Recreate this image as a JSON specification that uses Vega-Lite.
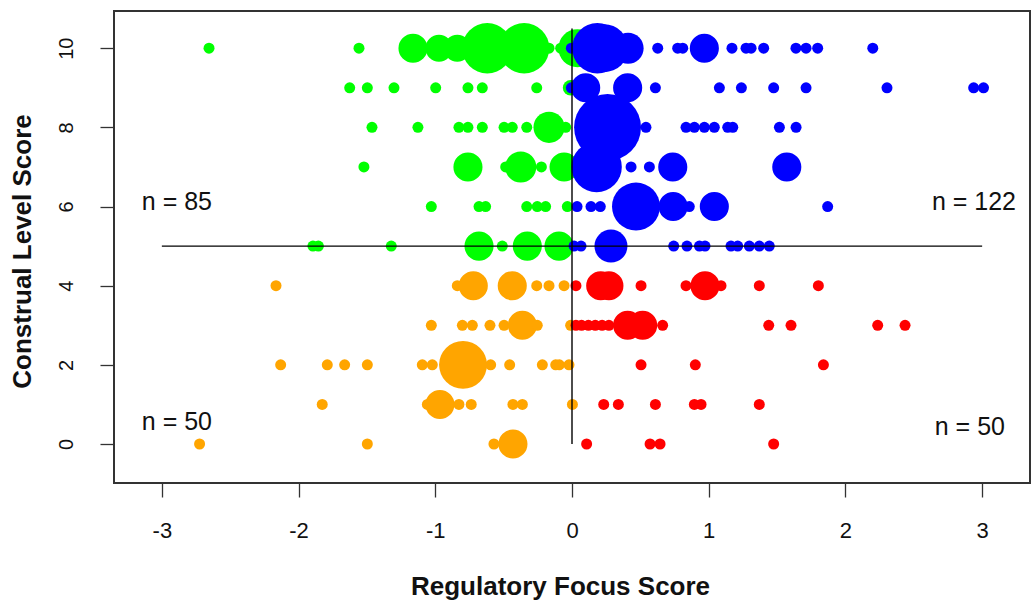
{
  "$schema": "https://vega.github.io/schema/vega-lite/v6.json",
  "width": 916,
  "height": 472,
  "autosize": {"type": "none"},
  "padding": {"left": 114, "top": 11, "right": 5, "bottom": 119},
  "background": "white",
  "config": {
    "view": {"stroke": "#333333", "strokeWidth": 2},
    "font": "Liberation Sans",
    "axis": {"grid": false, "domain": false, "tickColor": "#333333", "tickWidth": 1.3, "tickSize": 14, "labelPadding": 24, "labelFontSize": 20, "labelColor": "#111111", "titleFontSize": 26, "titleFontWeight": "bold", "titleColor": "#111111", "labelFont": "Liberation Sans", "titleFont": "Liberation Sans"}
  },
  "datasets": {
    "points": [
      {"x": -2.655, "y": 10, "count": 1, "group": "green"},
      {"x": -1.558, "y": 10, "count": 1, "group": "green"},
      {"x": -1.163, "y": 10, "count": 7, "group": "green"},
      {"x": -0.973, "y": 10, "count": 6, "group": "green"},
      {"x": -0.839, "y": 10, "count": 6, "group": "green"},
      {"x": -0.62, "y": 10, "count": 21, "group": "green"},
      {"x": -0.35, "y": 10, "count": 21, "group": "green"},
      {"x": -0.168, "y": 10, "count": 1, "group": "green"},
      {"x": -0.083, "y": 10, "count": 1, "group": "green"},
      {"x": 0.04, "y": 10, "count": 12, "group": "green"},
      {"x": -1.626, "y": 9, "count": 1, "group": "green"},
      {"x": -1.497, "y": 9, "count": 1, "group": "green"},
      {"x": -1.302, "y": 9, "count": 1, "group": "green"},
      {"x": -0.997, "y": 9, "count": 1, "group": "green"},
      {"x": -0.761, "y": 9, "count": 1, "group": "green"},
      {"x": -0.656, "y": 9, "count": 1, "group": "green"},
      {"x": -0.258, "y": 9, "count": 1, "group": "green"},
      {"x": -0.01, "y": 9, "count": 2, "group": "green"},
      {"x": -1.463, "y": 8, "count": 1, "group": "green"},
      {"x": -1.127, "y": 8, "count": 1, "group": "green"},
      {"x": -0.827, "y": 8, "count": 1, "group": "green"},
      {"x": -0.761, "y": 8, "count": 1, "group": "green"},
      {"x": -0.656, "y": 8, "count": 1, "group": "green"},
      {"x": -0.497, "y": 8, "count": 1, "group": "green"},
      {"x": -0.437, "y": 8, "count": 1, "group": "green"},
      {"x": -0.331, "y": 8, "count": 1, "group": "green"},
      {"x": -0.168, "y": 8, "count": 8, "group": "green"},
      {"x": -0.046, "y": 8, "count": 1, "group": "green"},
      {"x": -1.522, "y": 7, "count": 1, "group": "green"},
      {"x": -0.761, "y": 7, "count": 7, "group": "green"},
      {"x": -0.485, "y": 7, "count": 1, "group": "green"},
      {"x": -0.375, "y": 7, "count": 8, "group": "green"},
      {"x": -0.224, "y": 7, "count": 1, "group": "green"},
      {"x": -0.058, "y": 7, "count": 7, "group": "green"},
      {"x": -1.029, "y": 6, "count": 1, "group": "green"},
      {"x": -0.68, "y": 6, "count": 1, "group": "green"},
      {"x": -0.632, "y": 6, "count": 1, "group": "green"},
      {"x": -0.331, "y": 6, "count": 1, "group": "green"},
      {"x": -0.254, "y": 6, "count": 1, "group": "green"},
      {"x": -0.193, "y": 6, "count": 1, "group": "green"},
      {"x": -0.034, "y": 6, "count": 1, "group": "green"},
      {"x": -1.895, "y": 5, "count": 1, "group": "green"},
      {"x": -1.855, "y": 5, "count": 1, "group": "green"},
      {"x": -1.322, "y": 5, "count": 1, "group": "green"},
      {"x": -0.68, "y": 5, "count": 7, "group": "green"},
      {"x": -0.51, "y": 5, "count": 1, "group": "green"},
      {"x": -0.327, "y": 5, "count": 7, "group": "green"},
      {"x": -0.095, "y": 5, "count": 7, "group": "green"},
      {"x": -2.165, "y": 4, "count": 1, "group": "orange"},
      {"x": -0.839, "y": 4, "count": 1, "group": "orange"},
      {"x": -0.722, "y": 4, "count": 7, "group": "orange"},
      {"x": -0.437, "y": 4, "count": 7, "group": "orange"},
      {"x": -0.258, "y": 4, "count": 1, "group": "orange"},
      {"x": -0.168, "y": 4, "count": 1, "group": "orange"},
      {"x": -0.058, "y": 4, "count": 1, "group": "orange"},
      {"x": -1.029, "y": 3, "count": 1, "group": "orange"},
      {"x": -0.802, "y": 3, "count": 1, "group": "orange"},
      {"x": -0.729, "y": 3, "count": 1, "group": "orange"},
      {"x": -0.6, "y": 3, "count": 1, "group": "orange"},
      {"x": -0.497, "y": 3, "count": 1, "group": "orange"},
      {"x": -0.363, "y": 3, "count": 7, "group": "orange"},
      {"x": -0.254, "y": 3, "count": 1, "group": "orange"},
      {"x": -0.01, "y": 3, "count": 1, "group": "orange"},
      {"x": -2.131, "y": 2, "count": 1, "group": "orange"},
      {"x": -1.79, "y": 2, "count": 1, "group": "orange"},
      {"x": -1.663, "y": 2, "count": 1, "group": "orange"},
      {"x": -1.497, "y": 2, "count": 1, "group": "orange"},
      {"x": -1.095, "y": 2, "count": 1, "group": "orange"},
      {"x": -1.022, "y": 2, "count": 1, "group": "orange"},
      {"x": -0.797, "y": 2, "count": 19, "group": "orange"},
      {"x": -0.595, "y": 2, "count": 1, "group": "orange"},
      {"x": -0.456, "y": 2, "count": 1, "group": "orange"},
      {"x": -0.217, "y": 2, "count": 1, "group": "orange"},
      {"x": -0.119, "y": 2, "count": 1, "group": "orange"},
      {"x": -0.093, "y": 2, "count": 1, "group": "orange"},
      {"x": -0.022, "y": 2, "count": 1, "group": "orange"},
      {"x": -1.827, "y": 1, "count": 1, "group": "orange"},
      {"x": -1.058, "y": 1, "count": 1, "group": "orange"},
      {"x": -0.966, "y": 1, "count": 7, "group": "orange"},
      {"x": -0.827, "y": 1, "count": 1, "group": "orange"},
      {"x": -0.737, "y": 1, "count": 1, "group": "orange"},
      {"x": -0.432, "y": 1, "count": 1, "group": "orange"},
      {"x": -0.363, "y": 1, "count": 1, "group": "orange"},
      {"x": 0.003, "y": 1, "count": 1, "group": "orange"},
      {"x": -2.724, "y": 0, "count": 1, "group": "orange"},
      {"x": -1.497, "y": 0, "count": 1, "group": "orange"},
      {"x": -0.571, "y": 0, "count": 1, "group": "orange"},
      {"x": -0.432, "y": 0, "count": 7, "group": "orange"},
      {"x": -0.005, "y": 10, "count": 1, "group": "blue"},
      {"x": 0.185, "y": 10, "count": 21, "group": "blue"},
      {"x": 0.235, "y": 10, "count": 19, "group": "blue"},
      {"x": 0.41, "y": 10, "count": 8, "group": "blue"},
      {"x": 0.627, "y": 10, "count": 1, "group": "blue"},
      {"x": 0.773, "y": 10, "count": 1, "group": "blue"},
      {"x": 0.81, "y": 10, "count": 1, "group": "blue"},
      {"x": 0.968, "y": 10, "count": 7, "group": "blue"},
      {"x": 1.17, "y": 10, "count": 1, "group": "blue"},
      {"x": 1.273, "y": 10, "count": 1, "group": "blue"},
      {"x": 1.31, "y": 10, "count": 1, "group": "blue"},
      {"x": 1.402, "y": 10, "count": 1, "group": "blue"},
      {"x": 1.638, "y": 10, "count": 1, "group": "blue"},
      {"x": 1.712, "y": 10, "count": 1, "group": "blue"},
      {"x": 1.797, "y": 10, "count": 1, "group": "blue"},
      {"x": 2.2, "y": 10, "count": 1, "group": "blue"},
      {"x": -0.005, "y": 9, "count": 1, "group": "blue"},
      {"x": 0.1, "y": 9, "count": 7, "group": "blue"},
      {"x": 0.407, "y": 9, "count": 7, "group": "blue"},
      {"x": 0.61, "y": 9, "count": 1, "group": "blue"},
      {"x": 1.078, "y": 9, "count": 1, "group": "blue"},
      {"x": 1.239, "y": 9, "count": 1, "group": "blue"},
      {"x": 1.475, "y": 9, "count": 1, "group": "blue"},
      {"x": 1.712, "y": 9, "count": 1, "group": "blue"},
      {"x": 2.304, "y": 9, "count": 1, "group": "blue"},
      {"x": 2.938, "y": 9, "count": 1, "group": "blue"},
      {"x": 3.01, "y": 9, "count": 1, "group": "blue"},
      {"x": 0.26, "y": 8, "count": 37, "group": "blue"},
      {"x": 0.541, "y": 8, "count": 1, "group": "blue"},
      {"x": 0.834, "y": 8, "count": 1, "group": "blue"},
      {"x": 0.895, "y": 8, "count": 1, "group": "blue"},
      {"x": 0.968, "y": 8, "count": 1, "group": "blue"},
      {"x": 1.041, "y": 8, "count": 1, "group": "blue"},
      {"x": 1.139, "y": 8, "count": 1, "group": "blue"},
      {"x": 1.176, "y": 8, "count": 1, "group": "blue"},
      {"x": 1.517, "y": 8, "count": 1, "group": "blue"},
      {"x": 1.639, "y": 8, "count": 1, "group": "blue"},
      {"x": 0.18, "y": 7, "count": 21, "group": "blue"},
      {"x": 0.432, "y": 7, "count": 1, "group": "blue"},
      {"x": 0.566, "y": 7, "count": 1, "group": "blue"},
      {"x": 0.737, "y": 7, "count": 7, "group": "blue"},
      {"x": 1.571, "y": 7, "count": 7, "group": "blue"},
      {"x": 0.037, "y": 6, "count": 1, "group": "blue"},
      {"x": 0.139, "y": 6, "count": 1, "group": "blue"},
      {"x": 0.207, "y": 6, "count": 1, "group": "blue"},
      {"x": 0.468, "y": 6, "count": 19, "group": "blue"},
      {"x": 0.74, "y": 6, "count": 7, "group": "blue"},
      {"x": 0.858, "y": 6, "count": 1, "group": "blue"},
      {"x": 1.041, "y": 6, "count": 7, "group": "blue"},
      {"x": 1.87, "y": 6, "count": 1, "group": "blue"},
      {"x": 0.015, "y": 5, "count": 1, "group": "blue"},
      {"x": 0.066, "y": 5, "count": 1, "group": "blue"},
      {"x": 0.285, "y": 5, "count": 9, "group": "blue"},
      {"x": 0.744, "y": 5, "count": 1, "group": "blue"},
      {"x": 0.841, "y": 5, "count": 1, "group": "blue"},
      {"x": 0.932, "y": 5, "count": 1, "group": "blue"},
      {"x": 0.973, "y": 5, "count": 1, "group": "blue"},
      {"x": 1.163, "y": 5, "count": 1, "group": "blue"},
      {"x": 1.212, "y": 5, "count": 1, "group": "blue"},
      {"x": 1.297, "y": 5, "count": 1, "group": "blue"},
      {"x": 1.37, "y": 5, "count": 1, "group": "blue"},
      {"x": 1.443, "y": 5, "count": 1, "group": "blue"},
      {"x": 0.029, "y": 4, "count": 1, "group": "red"},
      {"x": 0.21, "y": 4, "count": 7, "group": "red"},
      {"x": 0.27, "y": 4, "count": 7, "group": "red"},
      {"x": 0.505, "y": 4, "count": 1, "group": "red"},
      {"x": 0.834, "y": 4, "count": 1, "group": "red"},
      {"x": 0.973, "y": 4, "count": 7, "group": "red"},
      {"x": 1.09, "y": 4, "count": 1, "group": "red"},
      {"x": 1.37, "y": 4, "count": 1, "group": "red"},
      {"x": 1.802, "y": 4, "count": 1, "group": "red"},
      {"x": 0.029, "y": 3, "count": 1, "group": "red"},
      {"x": 0.07, "y": 3, "count": 1, "group": "red"},
      {"x": 0.12, "y": 3, "count": 1, "group": "red"},
      {"x": 0.17, "y": 3, "count": 1, "group": "red"},
      {"x": 0.22, "y": 3, "count": 1, "group": "red"},
      {"x": 0.27, "y": 3, "count": 1, "group": "red"},
      {"x": 0.407, "y": 3, "count": 7, "group": "red"},
      {"x": 0.517, "y": 3, "count": 7, "group": "red"},
      {"x": 0.663, "y": 3, "count": 1, "group": "red"},
      {"x": 1.439, "y": 3, "count": 1, "group": "red"},
      {"x": 1.602, "y": 3, "count": 1, "group": "red"},
      {"x": 2.236, "y": 3, "count": 1, "group": "red"},
      {"x": 2.436, "y": 3, "count": 1, "group": "red"},
      {"x": 0.505, "y": 2, "count": 1, "group": "red"},
      {"x": 0.902, "y": 2, "count": 1, "group": "red"},
      {"x": 1.839, "y": 2, "count": 1, "group": "red"},
      {"x": 0.232, "y": 1, "count": 1, "group": "red"},
      {"x": 0.339, "y": 1, "count": 1, "group": "red"},
      {"x": 0.61, "y": 1, "count": 1, "group": "red"},
      {"x": 0.895, "y": 1, "count": 1, "group": "red"},
      {"x": 0.944, "y": 1, "count": 1, "group": "red"},
      {"x": 1.37, "y": 1, "count": 1, "group": "red"},
      {"x": 0.107, "y": 0, "count": 1, "group": "red"},
      {"x": 0.571, "y": 0, "count": 1, "group": "red"},
      {"x": 0.644, "y": 0, "count": 1, "group": "red"},
      {"x": 1.475, "y": 0, "count": 1, "group": "red"}
    ],
    "lines": [
      {"x": -3, "x2": 3, "y": 5, "y2": 5},
      {"x": 0, "x2": 0, "y": 0, "y2": 10.5}
    ],
    "labels": [
      {"x": -2.89, "y": 6.12, "label": "n = 85"},
      {"x": 2.94, "y": 6.12, "label": "n = 122"},
      {"x": -2.89, "y": 0.56, "label": "n = 50"},
      {"x": 2.91, "y": 0.44, "label": "n = 50"}
    ]
  },
  "layer": [
    {
      "data": {"name": "points"},
      "mark": {"type": "circle", "opacity": 1, "strokeWidth": 0},
      "encoding": {
        "x": {"field": "x", "type": "quantitative", "scale": {"domain": [-3.35, 3.35], "nice": false, "zero": false},
          "axis": {"values": [-3, -2, -1, 0, 1, 2, 3], "labelExpr": "'' + datum.value", "labelFontSize": 22, "labelPadding": 23, "title": "Regulatory Focus Score", "titleX": 446, "titleY": 103, "titleBaseline": "middle", "titleAlign": "center"}},
        "y": {"field": "y", "type": "quantitative", "scale": {"domain": [-0.985, 10.94], "nice": false, "zero": false},
          "axis": {"values": [0, 2, 4, 6, 8, 10], "labelExpr": "'' + datum.value", "labelAngle": -90, "labelAlign": "center", "labelBaseline": "bottom", "title": "Construal Level Score", "titleX": -92, "titleY": 240, "titleBaseline": "middle", "titleAlign": "center", "titleAngle": -90}},
        "size": {"field": "count", "type": "quantitative", "scale": {"type": "linear", "domain": [0, 40], "range": [0, 4840], "zero": true}, "legend": null},
        "color": {"field": "group", "type": "nominal", "scale": {"domain": ["green", "orange", "blue", "red"], "range": ["#00FF00", "#FFA500", "#0000FF", "#FF0000"]}, "legend": null}
      }
    },
    {
      "data": {"name": "lines"},
      "mark": {"type": "rule", "color": "#000000", "strokeWidth": 1.4},
      "encoding": {
        "x": {"field": "x", "type": "quantitative"},
        "x2": {"field": "x2"},
        "y": {"field": "y", "type": "quantitative"},
        "y2": {"field": "y2"}
      }
    },
    {
      "data": {"name": "labels"},
      "mark": {"type": "text", "fontSize": 25, "font": "Liberation Sans", "color": "#111111", "align": "center", "baseline": "middle"},
      "encoding": {
        "x": {"field": "x", "type": "quantitative"},
        "y": {"field": "y", "type": "quantitative"},
        "text": {"field": "label"}
      }
    }
  ]
}
